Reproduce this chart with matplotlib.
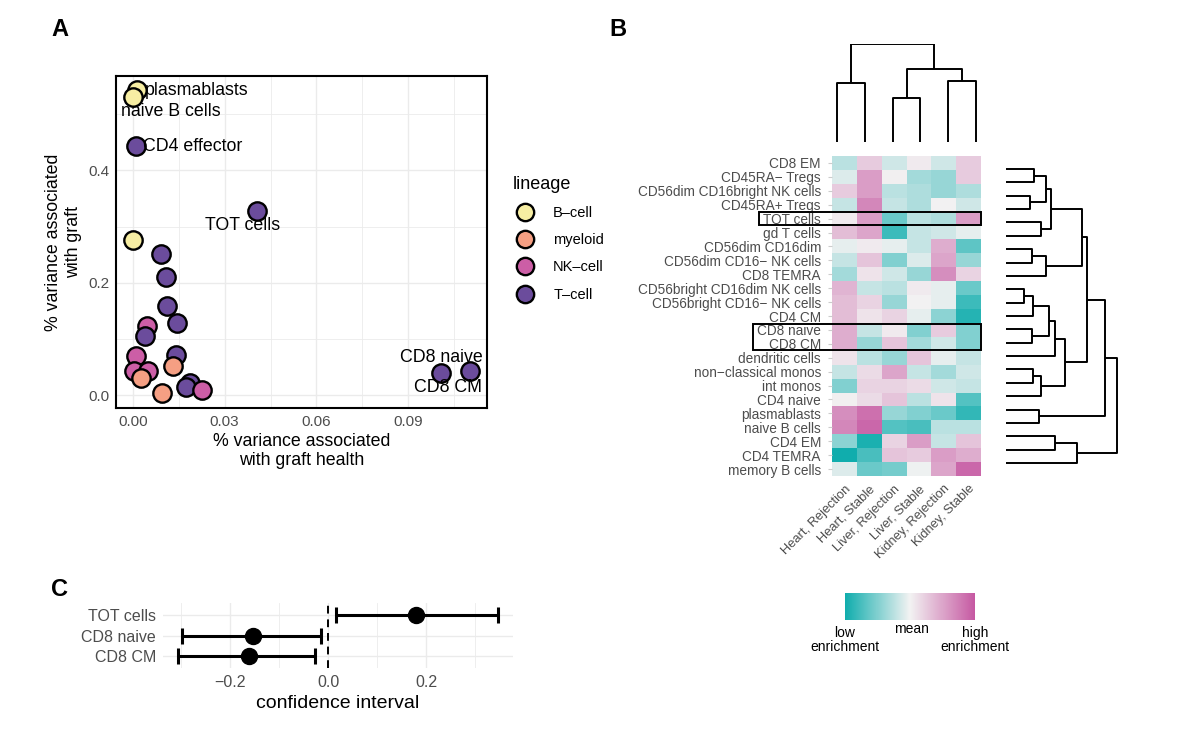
import numpy as np
import matplotlib
matplotlib.use("Agg")
import matplotlib.pyplot as plt
from matplotlib.colors import LinearSegmentedColormap, Normalize
from matplotlib.cm import ScalarMappable
from matplotlib.lines import Line2D

plt.rcParams['font.family'] = ['Liberation Sans', 'DejaVu Sans']

# ---------------- data: panel A ----------------
a_names = ["plasmablasts", "naive B cells", "CD4 effector", "TOT cells", "", "", "", "", "",
           "", "", "", "", "", "", "", "", "", "", "", "", "CD8 naive", "CD8 CM"]
a_x = [0.0015, 0.0000, 0.0009, 0.0407, 0.0000, 0.0092, 0.0108, 0.0113, 0.0144,
       0.0046, 0.0040, 0.0009, 0.0141, 0.0131, 0.0003, 0.0050, 0.0026, 0.0187,
       0.0174, 0.0227, 0.0095, 0.1103, 0.1007]
a_y = [0.543, 0.530, 0.444, 0.327, 0.276, 0.252, 0.210, 0.159, 0.129,
       0.123, 0.105, 0.069, 0.072, 0.052, 0.043, 0.042, 0.031, 0.022,
       0.014, 0.009, 0.003, 0.043, 0.040]
a_lineage = ["B-cell", "B-cell", "T-cell", "T-cell", "B-cell", "T-cell", "T-cell", "T-cell", "T-cell",
             "NK-cell", "T-cell", "NK-cell", "T-cell", "myeloid", "NK-cell", "NK-cell", "myeloid", "T-cell",
             "T-cell", "NK-cell", "myeloid", "T-cell", "T-cell"]
lineages = ["B-cell", "myeloid", "NK-cell", "T-cell"]

# ---------------- data: panel B ----------------
cell_types = ["CD8 EM", "CD45RA\u2212 Tregs", "CD56dim CD16bright NK cells", "CD45RA+ Tregs",
              "TOT cells", "gd T cells", "CD56dim CD16dim", "CD56dim CD16\u2212 NK cells",
              "CD8 TEMRA", "CD56bright CD16dim NK cells", "CD56bright CD16\u2212 NK cells",
              "CD4 CM", "CD8 naive", "CD8 CM", "dendritic cells", "non\u2212classical monos",
              "int monos", "CD4 naive", "plasmablasts", "naive B cells", "CD4 EM",
              "CD4 TEMRA", "memory B cells"]
conditions = ["Heart, Rejection", "Heart, Stable", "Liver, Rejection", "Liver, Stable",
              "Kidney, Rejection", "Kidney, Stable"]
enrichment = np.array([
    [-0.25, 0.25, -0.15, 0.05, -0.15, 0.25],
    [-0.10, 0.55, 0.02, -0.35, -0.40, 0.25],
    [0.25, 0.55, -0.25, -0.30, -0.40, -0.30],
    [-0.20, 0.70, -0.20, -0.30, 0.00, -0.15],
    [0.05, 0.55, -0.60, -0.25, -0.30, 0.55],
    [0.35, 0.50, -0.80, -0.20, -0.15, -0.05],
    [-0.05, 0.05, -0.05, -0.20, 0.45, -0.65],
    [-0.20, 0.30, -0.50, -0.10, 0.50, -0.40],
    [-0.35, 0.10, -0.15, -0.40, 0.65, 0.20],
    [0.40, -0.20, -0.25, 0.05, -0.05, -0.60],
    [0.35, 0.20, -0.40, 0.00, -0.05, -0.80],
    [0.35, 0.10, 0.20, -0.05, -0.45, -0.90],
    [0.45, -0.20, 0.05, -0.50, 0.25, -0.50],
    [0.45, -0.40, 0.30, -0.35, -0.15, -0.50],
    [0.10, -0.25, -0.40, 0.30, -0.05, -0.20],
    [-0.20, 0.15, 0.50, -0.20, -0.35, -0.15],
    [-0.50, 0.20, 0.20, 0.15, -0.15, -0.20],
    [0.02, 0.15, 0.30, -0.25, 0.10, -0.70],
    [0.65, 0.85, -0.40, -0.50, -0.60, -0.85],
    [0.70, 0.90, -0.70, -0.75, -0.25, -0.25],
    [-0.45, -0.95, 0.20, 0.55, -0.20, 0.30],
    [-1.00, -0.75, 0.30, 0.25, 0.55, 0.45],
    [-0.10, -0.60, -0.55, -0.02, 0.50, 0.90],
])
boxed_rows = [["TOT cells"], ["CD8 naive", "CD8 CM"]]

# dendrograms: (child a, child b, height); leaves are 0..n-1, merges get n, n+1, ...
col_merges = [(0, 1, 59), (2, 3, 44), (4, 5, 61), (7, 8, 73), (6, 9, 98)]
row_merges = [(0, 1, 28), (2, 3, 24), (23, 24, 40), (4, 5, 34.7), (25, 26, 44.7),
              (6, 7, 26), (28, 8, 40), (27, 29, 76), (9, 10, 18), (31, 11, 27.3),
              (12, 13, 26), (32, 33, 43.3), (34, 14, 49.3), (15, 16, 26.7), (36, 17, 34.7),
              (35, 37, 59.3), (30, 38, 81.3), (18, 19, 33.3), (20, 21, 49.3), (41, 22, 71.3),
              (39, 40, 99), (43, 42, 111)]

# ---------------- data: panel C ----------------
c_names = ["TOT cells", "CD8 naive", "CD8 CM"]
c_est = [0.180, -0.154, -0.162]
c_lo = [0.016, -0.298, -0.306]
c_hi = [0.346, -0.014, -0.027]

lineage_colors = {"B-cell": "#f7eea3", "myeloid": "#f59f83", "NK-cell": "#cc5ea6", "T-cell": "#6b4c9c"}
grid_col = "#ebebeb"
tick_col = "#4d4d4d"

W, H = 1178, 735
fig = plt.figure(figsize=(W / 100, H / 100), dpi=100)


def px_axes(x0, y0, x1, y1):
    return fig.add_axes([x0 / W, 1 - y1 / H, (x1 - x0) / W, (y1 - y0) / H])


def draw_dendro(ax, merges, n, orient):
    pos = {i: i for i in range(n)}
    hgt = {i: 0.0 for i in range(n)}
    for k, (a, b, h) in enumerate(merges):
        xs = [pos[a], pos[a], pos[b], pos[b]]
        ys = [hgt[a], h, h, hgt[b]]
        if orient == "top":
            ax.plot(xs, ys, color="black", lw=1.4, solid_capstyle="butt")
        else:
            ax.plot(ys, xs, color="black", lw=1.4, solid_capstyle="butt")
        pos[n + k] = (pos[a] + pos[b]) / 2
        hgt[n + k] = h
    ax.set_axis_off()


# ---------------- panel A ----------------
axA = px_axes(116, 76, 487, 408)
for i in range(len(a_x)):
    axA.scatter(a_x[i], a_y[i], s=175, color=lineage_colors[a_lineage[i]],
                edgecolor="black", linewidth=1.7, zorder=3)
axA.set_xlim(-0.0055, 0.1157)
axA.set_ylim(-0.023, 0.568)
axA.set_xticks([0.00, 0.03, 0.06, 0.09])
axA.set_xticklabels(["0.00", "0.03", "0.06", "0.09"])
axA.set_yticks([0.0, 0.2, 0.4])
axA.set_xticks([0.015, 0.045, 0.075, 0.105], minor=True)
axA.set_yticks([0.1, 0.3, 0.5], minor=True)
axA.grid(True, which="major", color=grid_col, lw=1.0)
axA.grid(True, which="minor", color=grid_col, lw=0.6)
axA.set_axisbelow(True)
axA.tick_params(which="both", length=0, labelsize=11, labelcolor=tick_col, pad=5)
for s in axA.spines.values():
    s.set_linewidth(1.5)
axA.set_xlabel("% variance associated\nwith graft health", fontsize=12.8, labelpad=3, linespacing=1.12)
axA.set_ylabel("% variance associated\nwith graft", fontsize=12.8, labelpad=4, linespacing=1.25)

label_offsets = {"plasmablasts": (5.5, 0, "left"), "naive B cells": (27, -10.5, "center"),
                 "CD4 effector": (5.5, -0.5, "left"), "TOT cells": (-11, -10.3, "center"),
                 "CD8 naive": (-21, 10, "center"), "CD8 CM": (5, -10.4, "center")}
for i, name in enumerate(a_names):
    if name in label_offsets:
        dx, dy, ha = label_offsets[name]
        axA.annotate(name, (a_x[i], a_y[i]), xytext=(dx, dy), textcoords="offset points",
                     ha=ha, va="center", fontsize=12.8, zorder=4)

handles = [Line2D([], [], marker="o", linestyle="", markersize=12.5, markerfacecolor=lineage_colors[l],
                  markeredgecolor="black", markeredgewidth=1.7, label=l.replace("-", "\u2013"))
           for l in lineages]
leg = fig.legend(handles=handles, title="lineage", loc="upper left",
                 bbox_to_anchor=(500 / W, 1 - 163 / H), frameon=False, fontsize=10.5,
                 title_fontsize=13, handletextpad=1.15, handlelength=1.6, labelspacing=0.9,
                 alignment="left")

# ---------------- panel B ----------------
nr, nc = enrichment.shape
cmap = LinearSegmentedColormap.from_list("enr", ["#10adad", "#f2f2f2", "#c659a2"])
norm = Normalize(-1, 1)
axB = px_axes(832, 156, 981, 476)
axB.pcolormesh(np.arange(nc + 1), np.arange(nr + 1), enrichment, cmap=cmap, norm=norm)
axB.set_xlim(0, nc)
axB.set_ylim(nr, 0)
axB.set_yticks(np.arange(nr) + 0.5)
axB.set_yticklabels(cell_types)
axB.set_xticks(np.arange(nc) + 0.5)
axB.set_xticklabels(conditions, rotation=45, ha="right", va="top", rotation_mode="anchor")
axB.tick_params(axis="y", length=3, color="#cccccc", labelsize=9.8, labelcolor=tick_col, pad=5)
axB.tick_params(axis="x", length=0, labelsize=9.3, labelcolor=tick_col, pad=5)
for s in axB.spines.values():
    s.set_visible(False)
# boxes around highlighted rows
fig.canvas.draw()
renderer = fig.canvas.get_renderer()
labels = axB.get_yticklabels()
for group in boxed_rows:
    rows = [cell_types.index(g) for g in group]
    left = min(labels[r].get_window_extent(renderer).x0 for r in rows)
    x_left = axB.transAxes.inverted().transform((left - 4, 0))[0]
    y0, y1 = min(rows), max(rows) + 1
    axB.add_patch(plt.Rectangle((x_left * nc, y0 + 0.05), nc - x_left * nc, y1 - y0 - 0.1,
                                fill=False, lw=1.4, edgecolor="black", clip_on=False, zorder=5))

axTop = px_axes(823, 44, 990, 142)
draw_dendro(axTop, col_merges, nc, "top")
axTop.set_xlim(-0.5, nc - 0.5)
axTop.set_ylim(0, 98)

axRow = px_axes(1006, 162.3, 1126, 469.7)
draw_dendro(axRow, row_merges, nr, "right")
axRow.set_ylim(nr - 0.5, -0.5)
axRow.set_xlim(0, 120)

axCb = px_axes(845, 593, 975, 620)
cb = fig.colorbar(ScalarMappable(norm=norm, cmap=cmap), cax=axCb, orientation="horizontal")
cb.outline.set_visible(False)
cb.set_ticks([])
fig.text(845 / W, 1 - 640 / H, "low\nenrichment", ha="center", va="center", fontsize=10, linespacing=1.0)
fig.text(911 / W, 1 - 629 / H, "mean", ha="center", va="center", fontsize=10)
fig.text(975 / W, 1 - 640 / H, "high\nenrichment", ha="center", va="center", fontsize=10, linespacing=1.0)

# ---------------- panel C ----------------
axC = px_axes(163, 603, 513, 668)
ypos = np.arange(len(c_names))
err = [np.array(c_est) - np.array(c_lo), np.array(c_hi) - np.array(c_est)]
axC.errorbar(c_est, ypos, xerr=err, fmt="o", color="black", markersize=11.5, elinewidth=2.2,
             capsize=6, capthick=2.2, zorder=3)
axC.axvline(0, color="black", lw=1.4, ls=(0, (4, 3)), zorder=2)
axC.set_xlim(-0.337, 0.377)
axC.set_ylim(len(c_names) - 0.4, -0.6)
axC.set_yticks(ypos)
axC.set_yticklabels(c_names)
axC.set_xticks([-0.2, 0.0, 0.2])
axC.set_xticklabels(["\u22120.2", "0.0", "0.2"])
axC.set_xticks([-0.3, -0.1, 0.1, 0.3], minor=True)
axC.grid(True, which="major", color=grid_col, lw=1.0)
axC.grid(True, which="minor", axis="x", color=grid_col, lw=0.6)
axC.set_axisbelow(True)
axC.tick_params(which="both", length=0, labelsize=11.5, labelcolor=tick_col, pad=5)
for s in axC.spines.values():
    s.set_visible(False)
axC.set_xlabel("confidence interval", fontsize=14, labelpad=4)

# panel letters
for letter, x, y in [("A", 60, 30), ("B", 618, 30), ("C", 60, 590)]:
    fig.text(x / W, 1 - y / H, letter, fontsize=17, fontweight="bold", ha="center", va="center")

fig.savefig("out.png", dpi=100)
